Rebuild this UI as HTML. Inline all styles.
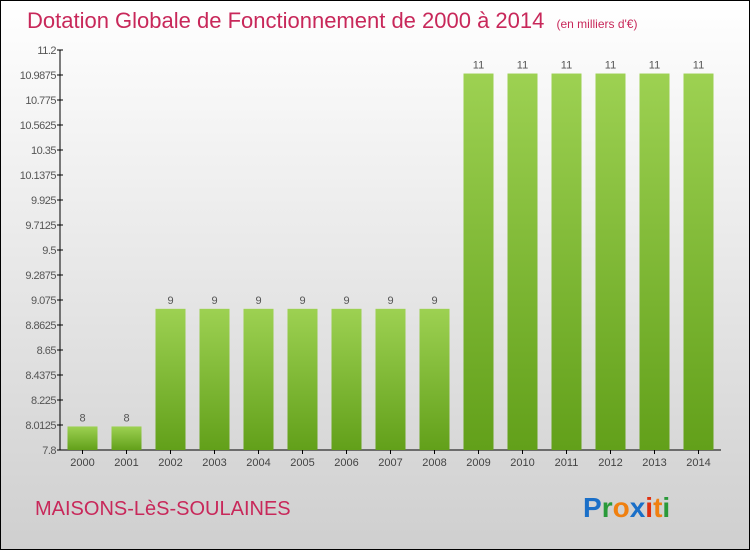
<!DOCTYPE html>
<html><head><meta charset="utf-8"><style>
html,body{margin:0;padding:0;}
body{width:750px;height:550px;overflow:hidden;font-family:"Liberation Sans",sans-serif;}
#wrap{position:absolute;left:0;top:0;width:748px;height:548px;border:1px solid #000;background:linear-gradient(#ffffff,#cfcfcf);}
</style></head><body>
<div id="wrap">
<svg id="chart" width="748" height="548">
<defs><linearGradient id="bg" x1="0" y1="0" x2="0" y2="1"><stop offset="0" stop-color="#9dd152"/><stop offset="1" stop-color="#62a01a"/></linearGradient></defs>
<text x="26" y="27" font-size="22" fill="#c8285a">Dotation Globale de Fonctionnement de 2000 à 2014 <tspan font-size="12" dx="6">(en milliers d'€)</tspan></text>
<g id="yaxis"></g><g id="bars"></g>
<text x="34" y="514" font-size="20" fill="#c8285a">MAISONS-LèS-SOULAINES</text>
<g font-size="28" font-weight="bold" font-family="Liberation Sans, sans-serif">
<text x="582" y="516"><tspan fill="#1a6fc8">P</tspan><tspan fill="#2a9a3a">r</tspan><tspan fill="#f08010">o</tspan><tspan fill="#1a6fc8">x</tspan><tspan fill="#e03010">i</tspan><tspan fill="#f08010">t</tspan><tspan fill="#2a9a3a">i</tspan></text></g>
</svg></div>
<script>
const years=["2000","2001","2002","2003","2004","2005","2006","2007","2008","2009","2010","2011","2012","2013","2014"];
const values=[8,8,9,9,9,9,9,9,9,11,11,11,11,11,11];
const ticks=["7.8","8.0125","8.225","8.4375","8.65","8.8625","9.075","9.2875","9.5","9.7125","9.925","10.1375","10.35","10.5625","10.775","10.9875","11.2"];
const ns="http://www.w3.org/2000/svg";
const svg=document.getElementById('chart');
const y0=449,y1=49,vmin=7.8,vmax=11.2;
function yS(v){return y0-(v-vmin)/(vmax-vmin)*(y0-y1);}
function xS(i){return 81.5+i*44;}
function mk(t,a,p){const e=document.createElementNS(ns,t);for(const k in a)e.setAttribute(k,a[k]);(p||svg).appendChild(e);return e;}
const ya=document.getElementById('yaxis');
let ax=mk('line',{x1:59,y1:y1,x2:59,y2:y0,stroke:'#000'},ya);


let xa=mk('line',{x1:59,y1:y0,x2:720,y2:y0,stroke:'#000'},ya);


ticks.forEach(t=>{const y=yS(parseFloat(t));
mk('line',{x1:56,y1:y,x2:62,y2:y,stroke:'#000'},ya);
const tx=mk('text',{x:55,y:y+4,'text-anchor':'end','font-size':11,fill:'#555','letter-spacing':'-0.5'},ya);
tx.textContent=t;

});
const bg=document.getElementById('bars');
values.forEach((v,i)=>{const x=xS(i),y=yS(v);
const r=mk('rect',{x:x-15,y:y,width:30,height:y0-y,fill:'url(#bg)'},bg);


const l=mk('text',{x:x,y:y-5,'text-anchor':'middle','font-size':11,fill:'#555'},bg);
l.textContent=v;


mk('line',{x1:x,y1:y0,x2:x,y2:y0+4,stroke:'#000'},bg);
const xl=mk('text',{x:x,y:y0+16,'text-anchor':'middle','font-size':11,fill:'#444'},bg);
xl.textContent=years[i];

});
</script>
</body></html>
